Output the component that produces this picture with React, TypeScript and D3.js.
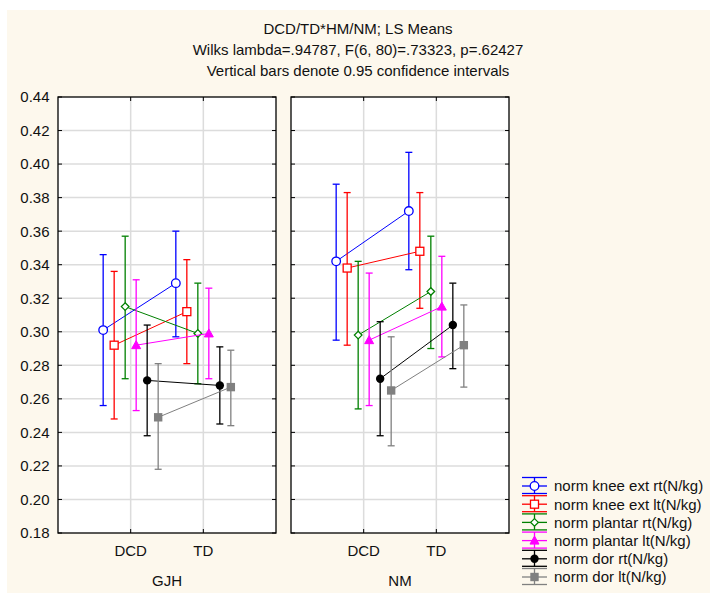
import React from "react";
import { scaleLinear, line as d3_line, range } from "d3";

// categories / panels
const groups = ["DCD", "TD"];
const panels = ["GJH", "NM"];
const yTicks = ["0.18", "0.20", "0.22", "0.24", "0.26", "0.28", "0.30", "0.32", "0.34", "0.36", "0.38", "0.40", "0.42", "0.44"];

const titleLines = [
    "DCD/TD*HM/NM; LS Means",
    "Wilks lambda=.94787, F(6, 80)=.73323, p=.62427",
    "Vertical bars denote 0.95 confidence intervals",
];

const seriesNames = [
    "norm knee ext rt(N/kg)",
    "norm knee ext lt(N/kg)",
    "norm plantar rt(N/kg)",
    "norm plantar lt(N/kg)",
    "norm dor rt(N/kg)",
    "norm dor lt(N/kg)",
];

// values ordered: GJH-DCD, GJH-TD, NM-DCD, NM-TD
const kneeRtMean = [0.301, 0.329, 0.342, 0.372];
const kneeRtLow = [0.256, 0.297, 0.295, 0.337];
const kneeRtHigh = [0.346, 0.360, 0.388, 0.407];

const kneeLtMean = [0.292, 0.312, 0.338, 0.348];
const kneeLtLow = [0.248, 0.281, 0.292, 0.314];
const kneeLtHigh = [0.336, 0.343, 0.383, 0.383];

const plantarRtMean = [0.315, 0.299, 0.298, 0.324];
const plantarRtLow = [0.272, 0.269, 0.254, 0.290];
const plantarRtHigh = [0.357, 0.329, 0.342, 0.357];

const plantarLtMean = [0.292, 0.299, 0.295, 0.315];
const plantarLtLow = [0.253, 0.272, 0.256, 0.285];
const plantarLtHigh = [0.331, 0.326, 0.335, 0.345];

const dorRtMean = [0.271, 0.268, 0.272, 0.304];
const dorRtLow = [0.238, 0.245, 0.238, 0.278];
const dorRtHigh = [0.304, 0.291, 0.306, 0.329];

const dorLtMean = [0.249, 0.267, 0.265, 0.292];
const dorLtLow = [0.218, 0.244, 0.232, 0.267];
const dorLtHigh = [0.281, 0.289, 0.297, 0.316];

const seriesMeans = [kneeRtMean, kneeLtMean, plantarRtMean, plantarLtMean, dorRtMean, dorLtMean];
const seriesLows = [kneeRtLow, kneeLtLow, plantarRtLow, plantarLtLow, dorRtLow, dorLtLow];
const seriesHighs = [kneeRtHigh, kneeLtHigh, plantarRtHigh, plantarLtHigh, dorRtHigh, dorLtHigh];

const colors = ["#0000ff", "#ff0000", "#008000", "#ff00ff", "#000000", "#808080"];

const FONT = "'Liberation Sans', Arial, sans-serif";

const Marker: React.FC<{ kind: number; x: number; y: number; color: string }> = ({ kind, x, y, color }) => {
    switch (kind) {
        case 0:
            return <circle cx={x} cy={y} r={4.3} fill="white" stroke={color} strokeWidth={1.3} />;
        case 1:
            return <rect x={x - 4} y={y - 4} width={8} height={8} fill="white" stroke={color} strokeWidth={1.3} />;
        case 2:
            return (
                <path
                    d={`M${x},${y - 3.8}L${x + 3.8},${y}L${x},${y + 3.8}L${x - 3.8},${y}Z`}
                    fill="white"
                    stroke={color}
                    strokeWidth={1.3}
                />
            );
        case 3:
            return (
                <path
                    d={`M${x},${y - 4.5}L${x + 4.5},${y + 3.5}L${x - 4.5},${y + 3.5}Z`}
                    fill={color}
                    stroke={color}
                    strokeWidth={1}
                />
            );
        case 4:
            return <circle cx={x} cy={y} r={4.2} fill={color} />;
        default:
            return <rect x={x - 4.2} y={y - 4.2} width={8.4} height={8.4} fill={color} />;
    }
};

export default function App() {
    const width = 710;
    const height = 593;

    const yScale = scaleLinear().domain([0.18, 0.44]).range([533, 97]);
    const panelX = [58, 291];
    const panelW = 218;
    const offset = 11;
    const capHalf = 3.5;

    const line = d3_line<[number, number]>()
        .x((d) => d[0])
        .y((d) => d[1]);

    return (
        <svg
            width={width}
            height={height}
            style={{ position: "absolute", left: 0, top: 0, fontFamily: FONT }}
        >
            <rect x={0} y={0} width={width} height={height} fill="white" />
            <rect x={7} y={10} width={width - 7} height={height - 10} fill="#fdf8ed" />

            {/* Title */}
            {titleLines.map((t, i) => (
                <text key={i} x={358} y={34 + i * 21} textAnchor="middle" fontSize={15} fill="#111">
                    {t}
                </text>
            ))}

            {/* Y axis labels */}
            {yTicks.map((t) => (
                <text key={t} x={49.5} y={yScale(+t)} dy="0.36em" textAnchor="end" fontSize={15} fill="#111">
                    {t}
                </text>
            ))}

            {panels.map((panel, p) => {
                const x0 = panelX[p];
                const xScale = scaleLinear().domain([0, 3]).range([x0, x0 + panelW]);
                return (
                    <g key={panel}>
                        <rect x={x0} y={yScale(0.44)} width={panelW} height={yScale(0.18) - yScale(0.44)} fill="white" />

                        {/* Grid lines */}
                        {yTicks.slice(1, -1).map((t) => (
                            <line
                                key={t}
                                x1={x0}
                                x2={x0 + panelW}
                                y1={yScale(+t)}
                                y2={yScale(+t)}
                                stroke="#dcdcdc"
                                strokeWidth={1.5}
                            />
                        ))}
                        {groups.map((g, gi) => (
                            <line
                                key={g}
                                x1={xScale(gi + 1)}
                                x2={xScale(gi + 1)}
                                y1={yScale(0.44)}
                                y2={yScale(0.18)}
                                stroke="#dcdcdc"
                                strokeWidth={1.5}
                            />
                        ))}

                        {/* Ticks */}
                        {yTicks.map((t) => (
                            <g key={t} stroke="#000" strokeWidth={1}>
                                <line x1={x0} x2={x0 + 4} y1={yScale(+t)} y2={yScale(+t)} />
                                <line x1={x0 + panelW - 4} x2={x0 + panelW} y1={yScale(+t)} y2={yScale(+t)} />
                            </g>
                        ))}
                        {groups.map((g, gi) => (
                            <g key={g} stroke="#000" strokeWidth={1}>
                                <line x1={xScale(gi + 1)} x2={xScale(gi + 1)} y1={yScale(0.44)} y2={yScale(0.44) + 4} />
                                <line x1={xScale(gi + 1)} x2={xScale(gi + 1)} y1={yScale(0.18) - 4} y2={yScale(0.18)} />
                            </g>
                        ))}

                        <rect
                            x={x0}
                            y={yScale(0.44)}
                            width={panelW}
                            height={yScale(0.18) - yScale(0.44)}
                            fill="none"
                            stroke="#000"
                            strokeWidth={1.3}
                        />

                        {/* Series */}
                        {seriesNames.map((name, s) => {
                            const dx = (s - 2.5) * offset;
                            const pts: [number, number][] = groups.map((g, gi) => [
                                xScale(gi + 1) + dx,
                                yScale(seriesMeans[s][p * 2 + gi]),
                            ]);
                            return (
                                <g key={name}>
                                    <path d={line(pts) ?? ""} fill="none" stroke={colors[s]} strokeWidth={1} />
                                    {groups.map((g, gi) => {
                                        const cx = pts[gi][0];
                                        const lo = yScale(seriesLows[s][p * 2 + gi]);
                                        const hi = yScale(seriesHighs[s][p * 2 + gi]);
                                        return (
                                            <g key={g} stroke={colors[s]} strokeWidth={1.3}>
                                                <line x1={cx} x2={cx} y1={lo} y2={hi} />
                                                <line x1={cx - capHalf} x2={cx + capHalf} y1={lo} y2={lo} />
                                                <line x1={cx - capHalf} x2={cx + capHalf} y1={hi} y2={hi} />
                                            </g>
                                        );
                                    })}
                                    {groups.map((g, gi) => (
                                        <Marker key={g} kind={s} x={pts[gi][0]} y={pts[gi][1]} color={colors[s]} />
                                    ))}
                                </g>
                            );
                        })}

                        {/* X labels */}
                        {groups.map((g, gi) => (
                            <text key={g} x={xScale(gi + 1)} y={555.5} textAnchor="middle" fontSize={15} fill="#111">
                                {g}
                            </text>
                        ))}
                        <text x={xScale(1.5)} y={585.5} textAnchor="middle" fontSize={15} fill="#111">
                            {panel}
                        </text>
                    </g>
                );
            })}

            {/* Legend */}
            {seriesNames.map((name, s) => {
                const cy = 486 + s * 18.2;
                const lx0 = 522;
                const lx1 = 547;
                const cx = (lx0 + lx1) / 2;
                return (
                    <g key={name}>
                        <g stroke={colors[s]} strokeWidth={1.3}>
                            <line x1={lx0} x2={lx1} y1={cy - 8.5} y2={cy - 8.5} />
                            <line x1={lx0} x2={lx1} y1={cy} y2={cy} />
                            <line x1={lx0} x2={lx1} y1={cy + 7.5} y2={cy + 7.5} />
                            <line x1={cx} x2={cx} y1={cy - 8.5} y2={cy + 7.5} />
                        </g>
                        <Marker kind={s} x={cx} y={cy} color={colors[s]} />
                        <text x={554} y={cy + 5.3} fontSize={15} fill="#111">
                            {name}
                        </text>
                    </g>
                );
            })}
        </svg>
    );
}
